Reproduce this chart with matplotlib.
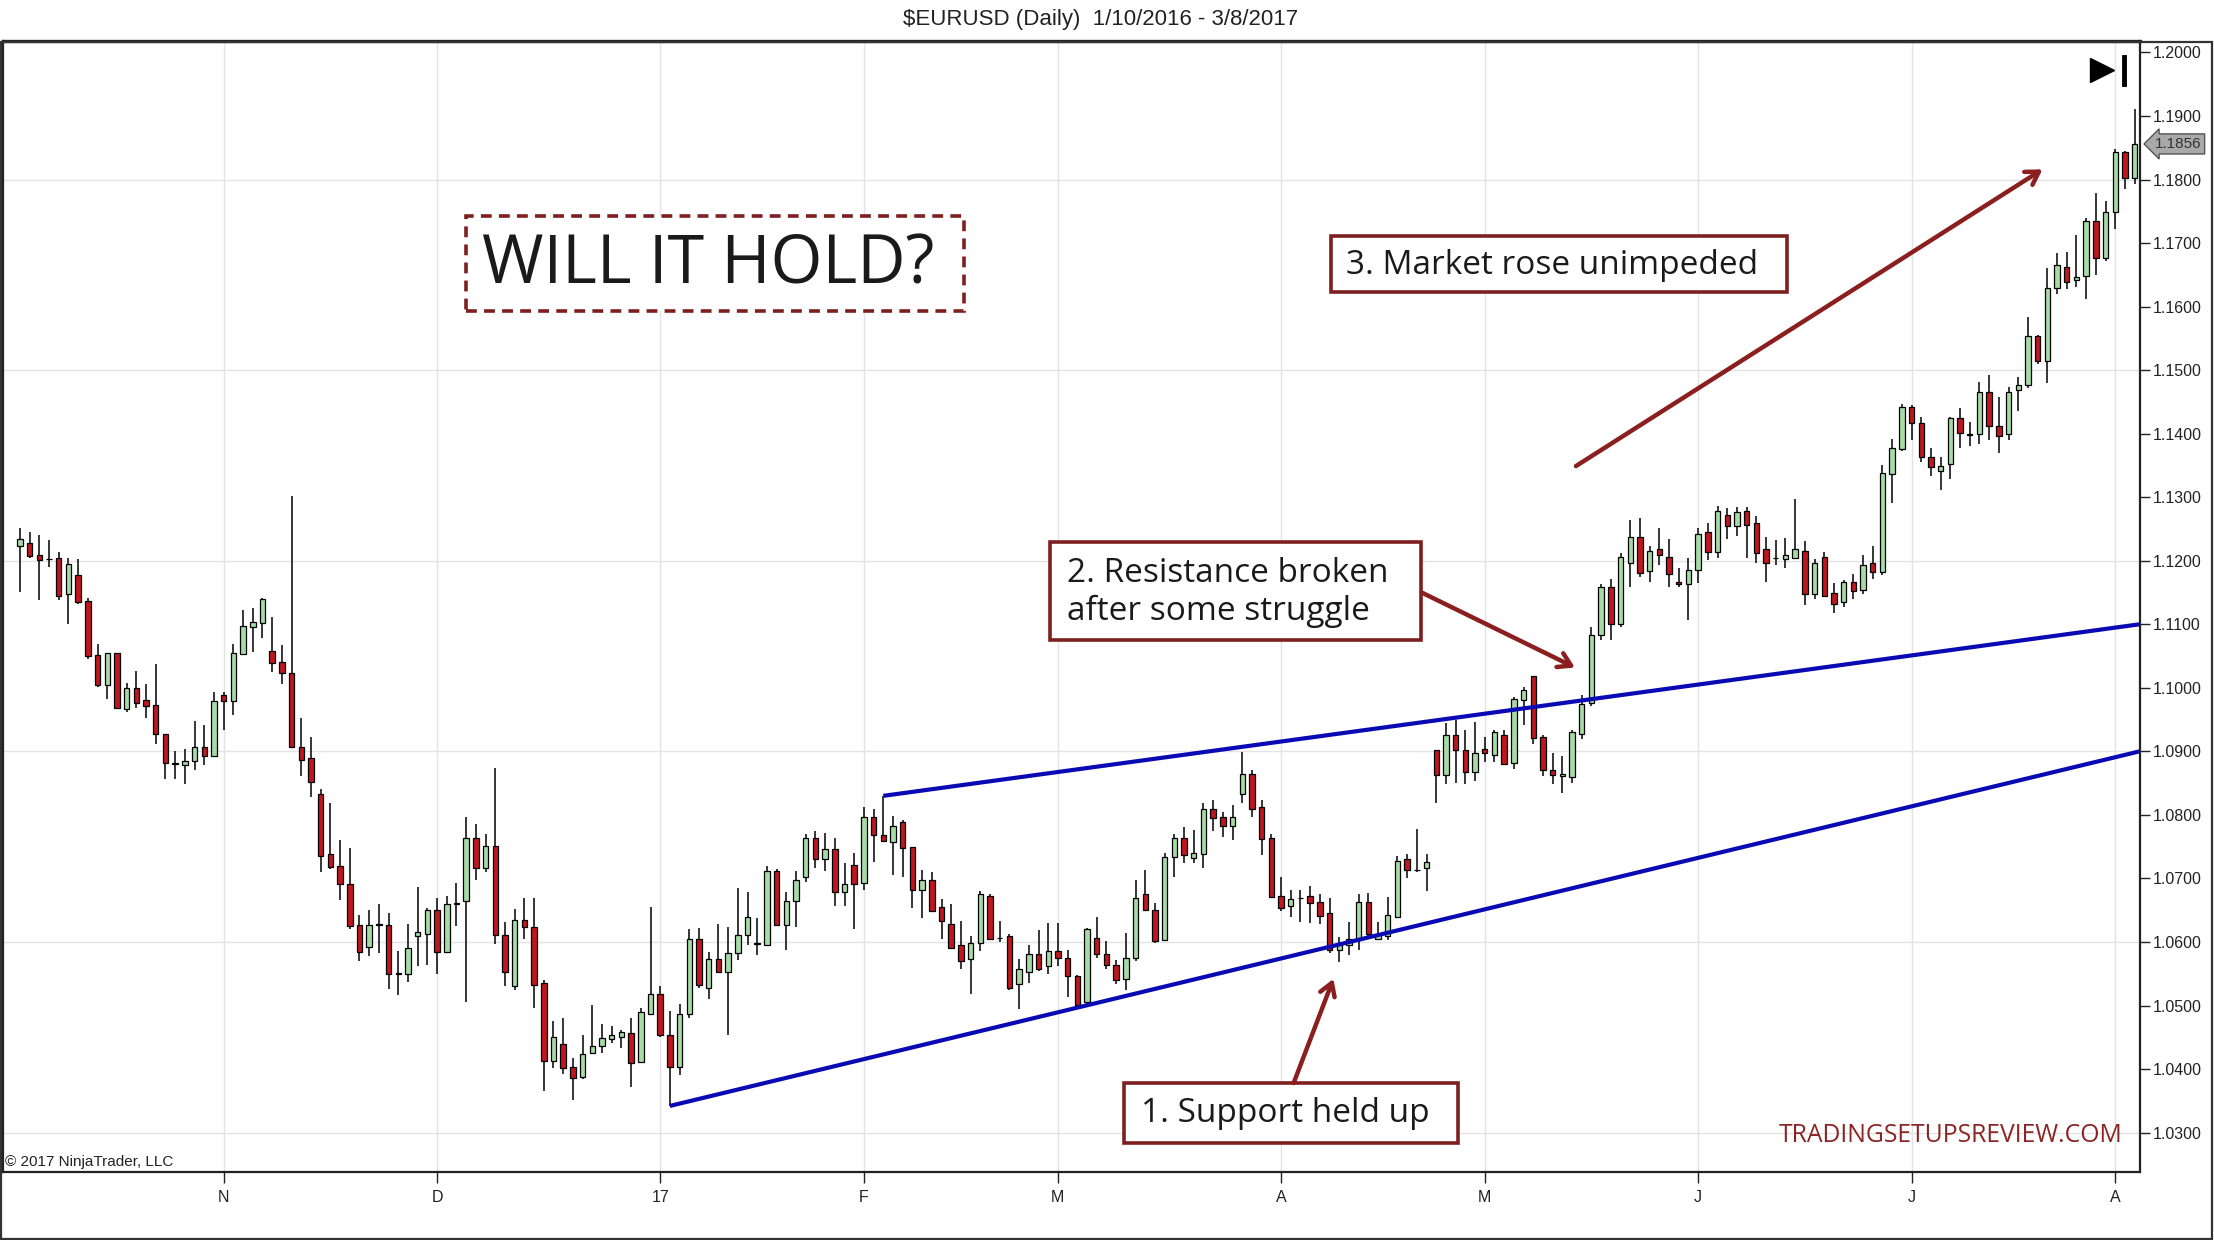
import numpy as np
import matplotlib
matplotlib.use("Agg")
import matplotlib.pyplot as plt
from matplotlib.patches import Rectangle
from matplotlib.transforms import blended_transform_factory

# ---------------- data (EURUSD daily candles) ----------------
opens = [1.1223,1.1228,1.1209,1.1203,1.1204,1.1148,1.1178,1.1137,1.1051,1.1005,
         1.1055,1.0966,1.0999,1.0981,1.0973,1.0928,1.0880,1.0878,1.0885,1.0907,
         1.0892,1.0988,1.0980,1.1053,1.1096,1.1102,1.1058,1.1041,1.1023,1.0907,
         1.0889,1.0833,1.0739,1.0719,1.0692,1.0626,1.0592,1.0628,1.0626,1.0550,
         1.0549,1.0609,1.0612,1.0650,1.0585,1.0660,1.0665,1.0763,1.0716,1.0751,
         1.0611,1.0530,1.0634,1.0623,1.0536,1.0412,1.0439,1.0403,1.0387,1.0425,
         1.0436,1.0448,1.0451,1.0456,1.0411,1.0486,1.0518,1.0454,1.0404,1.0486,
         1.0605,1.0528,1.0573,1.0553,1.0582,1.0611,1.0597,1.0595,1.0712,1.0627,
         1.0664,1.0702,1.0764,1.0730,1.0747,1.0679,1.0721,1.0693,1.0796,1.0768,
         1.0757,1.0789,1.0749,1.0682,1.0697,1.0655,1.0628,1.0595,1.0573,1.0599,
         1.0673,1.0607,1.0609,1.0534,1.0552,1.0581,1.0562,1.0586,1.0575,1.0546,
         1.0505,1.0607,1.0581,1.0563,1.0541,1.0575,1.0675,1.0650,1.0603,1.0734,
         1.0763,1.0732,1.0739,1.0809,1.0796,1.0783,1.0833,1.0864,1.0812,1.0763,
         1.0672,1.0656,1.0669,1.0672,1.0663,1.0645,1.0587,1.0595,1.0603,1.0663,
         1.0605,1.0610,1.0639,1.0731,1.0714,1.0716,1.0902,1.0863,1.0925,1.0902,
         1.0868,1.0904,1.0895,1.0925,1.0881,1.0981,1.1018,1.0922,1.0871,1.0861,
         1.0859,1.0928,1.0976,1.1083,1.1158,1.1100,1.1196,1.1237,1.1184,1.1218,
         1.1206,1.1167,1.1163,1.1186,1.1246,1.1214,1.1272,1.1254,1.1278,1.1259,
         1.1219,1.1205,1.1203,1.1204,1.1216,1.1147,1.1206,1.1149,1.1135,1.1167,
         1.1154,1.1196,1.1182,1.1336,1.1376,1.1442,1.1417,1.1363,1.1342,1.1353,
         1.1425,1.1399,1.1399,1.1466,1.1412,1.1399,1.1469,1.1477,1.1553,1.1515,
         1.1630,1.1663,1.1642,1.1648,1.1734,1.1677,1.1749,1.1843,1.1802]
highs = [1.1251,1.1245,1.1240,1.1233,1.1213,1.1204,1.1202,1.1142,1.1069,1.1055,
         1.1055,1.1008,1.1027,1.1006,1.1038,1.0928,1.0901,1.0904,1.0948,1.0942,
         1.0993,1.0993,1.1069,1.1123,1.1125,1.1141,1.1112,1.1067,1.1302,1.0953,
         1.0923,1.0841,1.0819,1.0760,1.0748,1.0643,1.0650,1.0659,1.0645,1.0586,
         1.0629,1.0686,1.0653,1.0669,1.0672,1.0693,1.0797,1.0785,1.0770,1.0874,
         1.0631,1.0652,1.0669,1.0670,1.0540,1.0476,1.0480,1.0418,1.0453,1.0501,
         1.0471,1.0467,1.0462,1.0481,1.0496,1.0655,1.0531,1.0491,1.0502,1.0621,
         1.0622,1.0584,1.0629,1.0623,1.0685,1.0678,1.0637,1.0720,1.0715,1.0678,
         1.0711,1.0770,1.0775,1.0771,1.0764,1.0725,1.0740,1.0813,1.0810,1.0830,
         1.0798,1.0792,1.0750,1.0714,1.0710,1.0668,1.0659,1.0633,1.0609,1.0680,
         1.0676,1.0633,1.0612,1.0574,1.0595,1.0619,1.0630,1.0630,1.0587,1.0548,
         1.0622,1.0640,1.0602,1.0572,1.0614,1.0698,1.0714,1.0662,1.0740,1.0770,
         1.0781,1.0777,1.0818,1.0823,1.0805,1.0816,1.0899,1.0871,1.0824,1.0770,
         1.0703,1.0682,1.0682,1.0688,1.0676,1.0669,1.0608,1.0631,1.0676,1.0677,
         1.0631,1.0671,1.0736,1.0739,1.0778,1.0739,1.0902,1.0944,1.0950,1.0933,
         1.0946,1.0922,1.0934,1.0934,1.0986,1.1001,1.1019,1.0926,1.0897,1.0892,
         1.0934,1.0988,1.1096,1.1163,1.1171,1.1212,1.1264,1.1268,1.1223,1.1251,
         1.1235,1.1189,1.1204,1.1251,1.1259,1.1286,1.1283,1.1284,1.1285,1.1270,
         1.1237,1.1232,1.1236,1.1297,1.1231,1.1203,1.1214,1.1165,1.1169,1.1179,
         1.1209,1.1223,1.1351,1.1392,1.1447,1.1445,1.1427,1.1377,1.1363,1.1427,
         1.1441,1.1419,1.1481,1.1492,1.1458,1.1473,1.1489,1.1584,1.1555,1.1661,
         1.1684,1.1686,1.1713,1.1740,1.1778,1.1766,1.1848,1.1845,1.1911]
lows = [1.1151,1.1204,1.1138,1.1190,1.1139,1.1101,1.1132,1.1046,1.1002,1.0983,
        1.0969,1.0962,1.0969,1.0953,1.0912,1.0856,1.0856,1.0849,1.0870,1.0878,
        1.0891,1.0933,1.0957,1.1053,1.1057,1.1079,1.1025,1.1006,1.0907,1.0862,
        1.0828,1.0710,1.0715,1.0666,1.0621,1.0570,1.0578,1.0583,1.0526,1.0517,
        1.0537,1.0562,1.0563,1.0550,1.0583,1.0625,1.0505,1.0697,1.0710,1.0597,
        1.0530,1.0524,1.0604,1.0496,1.0366,1.0402,1.0392,1.0352,1.0385,1.0424,
        1.0425,1.0441,1.0433,1.0371,1.0409,1.0485,1.0451,1.0342,1.0390,1.0481,
        1.0527,1.0511,1.0552,1.0453,1.0571,1.0596,1.0579,1.0594,1.0626,1.0587,
        1.0623,1.0694,1.0717,1.0711,1.0657,1.0657,1.0620,1.0682,1.0726,1.0758,
        1.0706,1.0703,1.0654,1.0638,1.0647,1.0605,1.0590,1.0558,1.0518,1.0586,
        1.0604,1.0600,1.0525,1.0495,1.0536,1.0555,1.0549,1.0562,1.0513,1.0497,
        1.0500,1.0575,1.0558,1.0534,1.0525,1.0570,1.0649,1.0598,1.0602,1.0703,
        1.0724,1.0724,1.0716,1.0774,1.0766,1.0760,1.0819,1.0796,1.0737,1.0671,
        1.0649,1.0640,1.0631,1.0630,1.0628,1.0582,1.0569,1.0579,1.0587,1.0608,
        1.0603,1.0603,1.0637,1.0701,1.0710,1.0681,1.0818,1.0848,1.0850,1.0848,
        1.0853,1.0883,1.0884,1.0879,1.0873,1.0942,1.0912,1.0862,1.0848,1.0835,
        1.0851,1.0919,1.0972,1.1076,1.1075,1.1096,1.1159,1.1174,1.1166,1.1193,
        1.1159,1.1159,1.1107,1.1165,1.1201,1.1204,1.1235,1.1239,1.1204,1.1196,
        1.1167,1.1193,1.1188,1.1203,1.1131,1.1140,1.1144,1.1118,1.1128,1.1140,
        1.1147,1.1172,1.1178,1.1291,1.1373,1.1390,1.1356,1.1334,1.1311,1.1329,
        1.1378,1.1381,1.1383,1.1390,1.1370,1.1390,1.1435,1.1472,1.1509,1.1479,
        1.1620,1.1627,1.1631,1.1612,1.1650,1.1672,1.1722,1.1785,1.1793]
closes = [1.1234,1.1207,1.1201,1.1202,1.1144,1.1195,1.1135,1.1050,1.1004,1.1055,
          1.0969,1.0999,1.0976,1.0971,1.0927,1.0881,1.0881,1.0885,1.0907,1.0892,
          1.0980,1.0980,1.1055,1.1097,1.1104,1.1140,1.1039,1.1024,1.0907,1.0887,
          1.0852,1.0736,1.0718,1.0692,1.0625,1.0584,1.0626,1.0627,1.0550,1.0551,
          1.0591,1.0615,1.0650,1.0585,1.0659,1.0661,1.0763,1.0717,1.0751,1.0611,
          1.0553,1.0635,1.0623,1.0532,1.0412,1.0451,1.0402,1.0386,1.0423,1.0436,
          1.0449,1.0453,1.0459,1.0409,1.0490,1.0518,1.0453,1.0404,1.0486,1.0605,
          1.0533,1.0573,1.0553,1.0582,1.0611,1.0639,1.0598,1.0712,1.0627,1.0664,
          1.0698,1.0764,1.0730,1.0746,1.0679,1.0691,1.0691,1.0797,1.0768,1.0759,
          1.0783,1.0748,1.0682,1.0697,1.0649,1.0633,1.0591,1.0570,1.0598,1.0676,
          1.0605,1.0606,1.0528,1.0558,1.0581,1.0558,1.0586,1.0575,1.0546,1.0501,
          1.0621,1.0581,1.0563,1.0540,1.0575,1.0669,1.0650,1.0602,1.0734,1.0763,
          1.0737,1.0740,1.0810,1.0795,1.0783,1.0796,1.0864,1.0810,1.0762,1.0671,
          1.0654,1.0668,1.0670,1.0662,1.0641,1.0587,1.0595,1.0604,1.0663,1.0612,
          1.0613,1.0642,1.0728,1.0713,1.0713,1.0726,1.0863,1.0925,1.0902,1.0868,
          1.0897,1.0898,1.0930,1.0880,1.0983,1.0997,1.0921,1.0871,1.0863,1.0864,
          1.0930,1.0974,1.1083,1.1158,1.1100,1.1206,1.1237,1.1181,1.1216,1.1209,
          1.1179,1.1163,1.1185,1.1242,1.1213,1.1279,1.1254,1.1276,1.1257,1.1212,
          1.1196,1.1204,1.1209,1.1219,1.1147,1.1196,1.1145,1.1132,1.1167,1.1152,
          1.1193,1.1182,1.1338,1.1377,1.1442,1.1417,1.1363,1.1347,1.1349,1.1425,
          1.1401,1.1398,1.1466,1.1412,1.1396,1.1466,1.1477,1.1553,1.1515,1.1630,
          1.1665,1.1639,1.1646,1.1735,1.1676,1.1749,1.1843,1.1802,1.1856]

month_labels = ["N", "D", "17", "F", "M", "A", "M", "J", "J", "A"]
month_bars = [21, 43, 66, 87, 107, 130, 151, 173, 195, 216]

support_pts = [(67, 1.0342), (218.5, 1.0900)]
resist_pts = [(89, 1.0830), (218.5, 1.1100)]

last_price = 1.1856

# ---------------- figure ----------------
W, H, DPI = 2214, 1240, 100
fig = plt.figure(figsize=(W / DPI, H / DPI), dpi=DPI, facecolor="white")
ax = fig.add_axes([3 / W, 1 - 1172 / H, (2140 - 3) / W, (1172 - 41) / H])
ax.set_facecolor("white")

o = np.array(opens); h = np.array(highs); l = np.array(lows); c = np.array(closes)
x = np.arange(len(o))
up = c >= o
GREEN = "#a6dba6"
RED = "#c0161e"

ax.vlines(x, l, h, color="black", linewidth=1.1, zorder=3)
bottom = np.minimum(o, c)
height = np.maximum(np.abs(c - o), 0.00010)
ax.bar(x[up], height[up], bottom=bottom[up], width=0.56, color=GREEN,
       edgecolor="black", linewidth=0.9, zorder=4)
ax.bar(x[~up], height[~up], bottom=bottom[~up], width=0.56, color=RED,
       edgecolor="black", linewidth=0.9, zorder=4)

# trend lines
ax.plot([p[0] for p in support_pts], [p[1] for p in support_pts],
        color="#0a0ab4", linewidth=3.0, zorder=6, solid_capstyle="butt")
ax.plot([p[0] for p in resist_pts], [p[1] for p in resist_pts],
        color="#0a0ab4", linewidth=3.0, zorder=6, solid_capstyle="butt")

ax.set_xlim(-1.75, 218.55)
ax.set_ylim(1.0238, 1.2018)

# grid
for v in month_bars:
    ax.axvline(v, color="#e3e3e3", linewidth=1.0, zorder=0)
for yv in np.arange(1.03, 1.2001, 0.03):
    ax.axhline(yv, color="#e3e3e3", linewidth=1.0, zorder=0)

# axes styling
for s in ax.spines.values():
    s.set_color("#222222")
    s.set_linewidth(1.6)
ax.spines["top"].set_linewidth(2.4)
ax.yaxis.tick_right()
ax.set_yticks(np.arange(1.03, 1.2001, 0.01))
ax.set_yticklabels([f"{v:.4f}" for v in np.arange(1.03, 1.2001, 0.01)])
ax.set_xticks(month_bars)
ax.set_xticklabels(month_labels)
ax.tick_params(axis="y", direction="out", length=7, width=1.0, pad=2,
               labelsize=11.5, labelcolor="#222222", colors="#222222")
ax.tick_params(axis="x", direction="out", length=8, width=1.0, pad=5,
               labelsize=11.5, labelcolor="#222222", colors="#222222")
for lab in ax.get_xticklabels() + ax.get_yticklabels():
    lab.set_family(["Liberation Sans Narrow", "Liberation Sans", "DejaVu Sans"])

# outer border
fig.patches.append(Rectangle((1 / W, 1 / H), (W - 3) / W, (H - 41 - 2) / H,
                             transform=fig.transFigure, fill=False,
                             edgecolor="#333333", linewidth=1.6))

# title
fig.text(1101 / W, 1 - 20 / H, "$EURUSD (Daily)  1/10/2016 - 3/8/2017",
         ha="center", va="center", fontsize=16, color="#222222",
         family=["Liberation Sans Narrow", "Liberation Sans", "DejaVu Sans"])

# copyright
ax.text(0.001, 0.009, "© 2017 NinjaTrader, LLC", transform=ax.transAxes,
        ha="left", va="center", fontsize=11, color="#222222",
        family=["Liberation Sans Narrow", "Liberation Sans", "DejaVu Sans"])

# watermark
ax.text(0.9916, 0.0327, "TRADINGSETUPSREVIEW.COM", transform=ax.transAxes,
        ha="right", va="center", fontsize=17.8, color="#8b2525", family="Open Sans")

# last price tag
bt = blended_transform_factory(ax.transAxes, ax.transData)
ax.text(1.007, last_price, f"{last_price:.4f}", transform=bt, ha="left",
        va="center", fontsize=11, color="#333333", clip_on=False,
        family=["Liberation Sans", "DejaVu Sans"],
        bbox=dict(boxstyle="larrow,pad=0.2", fc="#a9a9a9", ec="#555555", lw=1.0))

# scroll-to-end icon
ax.plot([0.982], [0.974], marker=">", markersize=17, color="black",
        transform=ax.transAxes, clip_on=False, zorder=8)
ax.plot([0.9925, 0.9925], [0.962, 0.986], color="black", linewidth=3.5,
        transform=ax.transAxes, zorder=8)

# annotation boxes
BOXC = "#7d1f1f"
TXT = "#1a1a1a"
def box(x0, x1, y0, y1, ls="-"):
    ax.add_patch(Rectangle((x0, y0), x1 - x0, y1 - y0, fill=True, fc="white",
                           ec=BOXC, lw=2.6, linestyle=ls, zorder=9))

box(46.0, 97.3, 1.15933, 1.17422, ls=(0, (3, 2)))
ax.text(47.6, 1.1665, "WILL IT HOLD?", ha="left", va="center", fontsize=48,
        color=TXT, family="Open Sans", zorder=10)

box(135.2, 182.2, 1.16222, 1.17111)
ax.text(136.7, 1.16650, "3. Market rose unimpeded", ha="left", va="center",
        fontsize=24, color=TXT, family="Open Sans", zorder=10)

box(106.2, 144.4, 1.10756, 1.12289)
ax.text(107.9, 1.11505, "2. Resistance broken\nafter some struggle", ha="left",
        va="center", fontsize=24, color=TXT, family="Open Sans", zorder=10,
        linespacing=1.2)

box(113.8, 148.2, 1.02844, 1.03778)
ax.text(115.6, 1.03295, "1. Support held up", ha="left", va="center",
        fontsize=24, color=TXT, family="Open Sans", zorder=10)

# arrows
ARC = "#8b1f1f"
arrow_kw = dict(arrowstyle="->,head_length=0.9,head_width=0.55", color=ARC,
                lw=3.2, shrinkA=0, shrinkB=0)
ax.annotate("", xy=(208.5, 1.1816), xytext=(160.4, 1.1349),
            arrowprops=arrow_kw, zorder=11)
ax.annotate("", xy=(160.3, 1.1032), xytext=(144.5, 1.1150),
            arrowprops=arrow_kw, zorder=11)
ax.annotate("", xy=(135.4, 1.0542), xytext=(131.3, 1.0378),
            arrowprops=arrow_kw, zorder=11)

fig.savefig("out.png", dpi=DPI, facecolor="white")
